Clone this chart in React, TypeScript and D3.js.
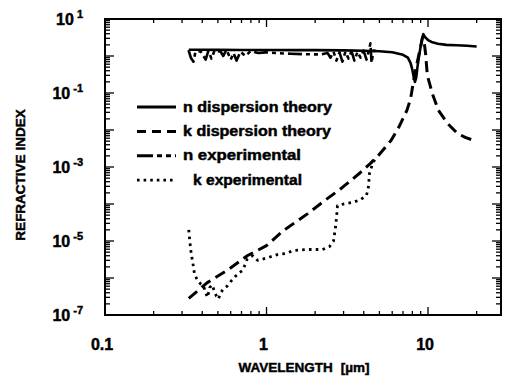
import * as d3 from 'd3';

// wavelength [um], value pairs
const nTheoryWl = [0.33, 0.4, 0.5, 0.7, 1.0, 1.5, 2.0, 3.0, 4.0, 5.0, 6.0, 7.0, 7.5, 7.8, 8.0, 8.15, 8.3, 8.45, 8.6, 8.8, 9.0, 9.2, 9.35, 9.6, 10.0, 10.5, 11.5, 13, 15, 17.5, 20];
const nTheoryVal = [1.48, 1.47, 1.462, 1.455, 1.45, 1.445, 1.438, 1.42, 1.39, 1.34, 1.26, 1.08, 0.9, 0.64, 0.42, 0.28, 0.2, 0.26, 0.5, 1.0, 1.8, 3.0, 3.9, 3.2, 2.7, 2.4, 2.15, 2.0, 1.95, 1.9, 1.8];

const kTheoryWl = [0.33, 0.43, 0.57, 0.76, 1.0, 1.27, 1.8, 2.3, 2.95, 3.8, 4.4, 5.0, 5.9, 6.6, 7.4, 7.8, 8.1, 8.4, 8.7, 9.0, 9.25, 9.45, 9.65, 9.9, 10.3, 10.6, 11.6, 13.2, 15.2, 17, 19];
const kTheoryVal = [2.8e-7, 7.5e-7, 1.6e-6, 4e-6, 7.5e-6, 1.9e-5, 5.5e-5, 1.25e-4, 2.8e-4, 7e-4, 1.25e-3, 2.2e-3, 5.2e-3, 1.2e-2, 3.4e-2, 7e-2, 0.19, 0.45, 0.9, 1.8, 3.2, 2.5, 1.2, 0.3, 0.16, 0.1, 0.034, 0.015, 0.0081, 0.0063, 0.0053];

const nExpWl = [0.329, 0.34, 0.353, 0.363, 0.39, 0.42, 0.437, 0.456, 0.477, 0.52, 0.54, 0.565, 0.6, 0.625, 0.652, 0.69, 0.74, 0.796, 0.89, 0.99, 1.14, 1.41, 1.74, 2.16, 2.39, 2.49, 2.6, 2.71, 2.83, 2.95, 3.08, 3.22, 3.36, 3.5, 3.66, 3.82, 3.99, 4.16, 4.28, 4.4, 4.47, 4.6, 4.8];
const nExpVal = [1.45, 0.9, 0.7, 1.3, 1.35, 0.8, 1.4, 0.85, 1.4, 1.3, 1.0, 1.5, 0.8, 1.2, 0.75, 1.3, 1.0, 1.35, 1.2, 1.25, 1.2, 1.15, 1.12, 1.1, 1.2, 0.9, 1.3, 0.75, 1.25, 0.7, 1.3, 0.85, 1.35, 0.75, 1.3, 0.9, 1.4, 0.8, 1.3, 2.2, 0.65, 1.4, 1.35];

const kExpWl = [0.33, 0.335, 0.34, 0.35, 0.358, 0.374, 0.39, 0.407, 0.42, 0.431, 0.445, 0.46, 0.475, 0.49, 0.504, 0.52, 0.54, 0.57, 0.6, 0.64, 0.68, 0.71, 0.74, 0.76, 0.82, 0.88, 1.01, 1.17, 1.31, 1.47, 1.74, 2.0, 2.22, 2.45, 2.6, 2.68, 2.72, 2.75, 3.0, 3.41, 3.8, 4.16, 4.28, 4.34, 4.5, 4.73];
const kExpVal = [2.0e-5, 1.0e-5, 5.5e-6, 2.5e-6, 1.3e-6, 8.5e-7, 7e-7, 6.2e-7, 4e-7, 3e-7, 5.5e-7, 6.5e-7, 4.5e-7, 3.2e-7, 2.7e-7, 4e-7, 5e-7, 6e-7, 8e-7, 1.1e-6, 1.4e-6, 1.6e-6, 2.4e-6, 3.3e-6, 4e-6, 3e-6, 3.5e-6, 4.3e-6, 4.6e-6, 5.5e-6, 5.9e-6, 5.9e-6, 5.9e-6, 7e-6, 1.0e-5, 2.5e-5, 5e-5, 9e-5, 1.0e-4, 1.1e-4, 1.3e-4, 1.7e-4, 3e-4, 6.7e-4, 1.1e-3, 1.8e-3];

const yLabelExps = [1, -1, -3, -5, -7];
const xLabels = [0.1, 1, 10];

const legendItems = [
  { label: 'n dispersion theory', dash: '', textX: 183, len: 149 },
  { label: 'k dispersion theory', dash: '9 6', textX: 183, len: 148 },
  { label: 'n experimental', dash: '16 4 5 4 5 4', textX: 183, len: 118 },
  { label: 'k experimental', dash: '2.6 4', textX: 193, len: 109 },
];

const FONT = '"Liberation Sans", Arial, Helvetica, sans-serif';

export default function App() {
  const width = 506;
  const height = 382;
  const left = 105, right = 501, top = 19, bottom = 315;

  const x = d3.scaleLog().domain([0.1, 28.3]).range([left, right]);
  const y = d3.scaleLog().domain([1e-7, 10]).range([bottom, top]);

  const line = d3.line<[number, number]>()
    .x(d => x(d[0]))
    .y(d => y(d[1]));

  const zip = (a: number[], b: number[]) => a.map((v, i) => [v, b[i]] as [number, number]);

  const series = [
    { pts: zip(nTheoryWl, nTheoryVal), dash: '', w: 2.6 },
    { pts: zip(kTheoryWl, kTheoryVal), dash: '11 6', w: 3 },
    { pts: zip(nExpWl, nExpVal), dash: '14 4 4 4 4 4', w: 2.6 },
    { pts: zip(kExpWl, kExpVal), dash: '2.6 4.2', w: 2.8 },
  ];

  const isMajor = (v: number) => Math.abs(Math.log10(v) - Math.round(Math.log10(v))) < 1e-6;
  const xTicks = x.ticks().filter(t => t >= 0.1 && t <= 28.3);
  const yTicks = y.ticks();

  const legendY0 = 107;
  const legendStep = 24.4;

  return (
    <svg width={width} height={height} style={{ position: 'absolute', left: 0, top: 0, background: '#fff' }}
      fontFamily={FONT} fontWeight="bold">
      {/* ticks */}
      <g stroke="#000" strokeWidth={1.3}>
        {xTicks.map((t, i) => {
          const len = isMajor(t) ? 8 : 4;
          return (
            <g key={'xt' + i}>
              <line x1={x(t)} x2={x(t)} y1={bottom} y2={bottom - len} />
              <line x1={x(t)} x2={x(t)} y1={top} y2={top + len} />
            </g>
          );
        })}
        {yTicks.map((t, i) => {
          const len = isMajor(t) ? 9 : 5;
          return (
            <g key={'yt' + i}>
              <line x1={left} x2={left + len} y1={y(t)} y2={y(t)} />
              <line x1={right} x2={right - len} y1={y(t)} y2={y(t)} />
            </g>
          );
        })}
      </g>

      {/* frame */}
      <rect x={left} y={top} width={right - left} height={bottom - top} fill="none" stroke="#000" strokeWidth={2} />

      {/* curves */}
      {series.map((s, i) => (
        <path key={i} d={line(s.pts) || ''} fill="none" stroke="#000" strokeWidth={s.w}
          strokeDasharray={s.dash || undefined} strokeLinejoin="round" />
      ))}

      <g stroke="#000" strokeWidth={0.45}>
        {/* y labels */}
        {yLabelExps.map(e => (
          <text key={e} x={83} y={y(Math.pow(10, e)) + 6} textAnchor="end" fontSize={16}>
            10<tspan dx={3} dy={-7} fontSize={11}>{e < 0 ? '-' + Math.abs(e) : String(e)}</tspan>
          </text>
        ))}

        {/* x labels */}
        {xLabels.map(v => (
          <text key={v} x={x(v) - 3} y={350} textAnchor="middle" fontSize={16}>{String(v)}</text>
        ))}

        {/* axis titles */}
        <text x={304} y={372} textAnchor="middle" fontSize={13.5}>
          WAVELENGTH<tspan dx={8}>[µm]</tspan>
        </text>
        <text transform="translate(25,175) rotate(-90)" textAnchor="middle" fontSize={13.5}>REFRACTIVE INDEX</text>

        {/* legend text */}
        {legendItems.map((it, i) => (
          <text key={it.label} x={it.textX} y={legendY0 + i * legendStep + 4.5} fontSize={14}
            textLength={it.len} lengthAdjust="spacingAndGlyphs">{it.label}</text>
        ))}
      </g>

      {/* legend lines */}
      {legendItems.map((it, i) => {
        const ly = legendY0 + i * legendStep;
        return (
          <line key={it.label} x1={137} x2={176} y1={ly} y2={ly} stroke="#000"
            strokeWidth={i === 3 ? 2.8 : 3} strokeDasharray={it.dash || undefined} />
        );
      })}
    </svg>
  );
}
